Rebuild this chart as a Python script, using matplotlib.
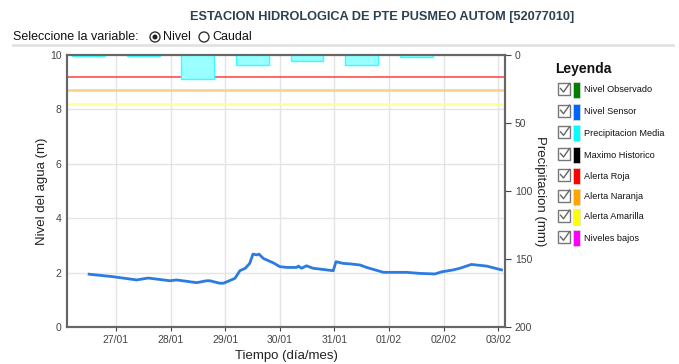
import matplotlib
matplotlib.use("Agg")
import matplotlib.pyplot as plt
import matplotlib.dates as mdates
from matplotlib.patches import Rectangle, Circle
from matplotlib.lines import Line2D
import pandas as pd

plt.rcParams['font.family'] = ['Liberation Sans', 'DejaVu Sans']

# Nivel sensor (m)
level_times = [
    "2023-01-26 12:14", "2023-01-26 22:40", "2023-01-27 09:07", "2023-01-27 14:10",
    "2023-01-27 23:46", "2023-01-28 02:38", "2023-01-28 11:31", "2023-01-28 15:50",
    "2023-01-28 17:17", "2023-01-28 21:36", "2023-01-28 23:17", "2023-01-29 04:19",
    "2023-01-29 06:29", "2023-01-29 08:53", "2023-01-29 10:48", "2023-01-29 12:14",
    "2023-01-29 13:55", "2023-01-29 14:53", "2023-01-29 16:48", "2023-01-29 21:07",
    "2023-01-30 00:00", "2023-01-30 03:07", "2023-01-30 07:26", "2023-01-30 08:10",
    "2023-01-30 09:36", "2023-01-30 11:46", "2023-01-30 14:38", "2023-01-30 23:31",
    "2023-01-31 00:43", "2023-01-31 03:50", "2023-01-31 06:58", "2023-01-31 11:17",
    "2023-01-31 14:10", "2023-01-31 21:36", "2023-02-01 07:41", "2023-02-01 13:41",
    "2023-02-01 20:10", "2023-02-01 23:17", "2023-02-02 04:19", "2023-02-02 07:12",
    "2023-02-02 12:14", "2023-02-02 14:24", "2023-02-02 18:58", "2023-02-03 01:26",
]
level_values = [
    1.94, 1.85, 1.73, 1.80, 1.70, 1.73, 1.63, 1.70,
    1.70, 1.61, 1.61, 1.79, 2.07, 2.16, 2.34, 2.68,
    2.65, 2.68, 2.52, 2.36, 2.22, 2.19, 2.19, 2.24,
    2.16, 2.25, 2.16, 2.07, 2.40, 2.34, 2.32, 2.28,
    2.19, 2.01, 2.01, 1.97, 1.95, 2.03, 2.10, 2.16,
    2.30, 2.28, 2.24, 2.10,
]

# Precipitacion media diaria (mm)
precip_days = ["2023-01-26 12:00", "2023-01-27 12:00", "2023-01-28 12:00",
               "2023-01-29 12:00", "2023-01-30 12:00", "2023-01-31 12:00",
               "2023-02-01 12:00"]
precip_values = [1.0, 1.0, 17.5, 7.5, 4.5, 7.0, 1.5]

# Umbrales de alerta (m)
alerta_roja = 9.2
alerta_naranja = 8.7
alerta_amarilla = 8.2

legend_labels = ["Nivel Observado", "Nivel Sensor", "Precipitacion Media",
                 "Maximo Historico", "Alerta Roja", "Alerta Naranja",
                 "Alerta Amarilla", "Niveles bajos"]
legend_colors = ["#008000", "#0066ff", "#00ffff", "#000000",
                 "#ff0000", "#ffa500", "#ffff00", "#ff00ff"]

W, H = 679, 364
fig = plt.figure(figsize=(W / 100, H / 100), dpi=100)

L, R, T, B = 67, 505, 55, 327
ax = fig.add_axes([L / W, 1 - B / H, (R - L) / W, (B - T) / H])
ax2 = ax.twinx()

lt = pd.to_datetime(level_times)
pt = pd.to_datetime(precip_days)

ax.axhline(alerta_roja, color="#ff4d4d", lw=1.2, zorder=3)
ax.axhline(alerta_naranja, color="#f8d08a", lw=1.8, zorder=3)
ax.axhline(alerta_amarilla, color="#ffff99", lw=1.8, zorder=3)
ax.plot(lt, level_values, color="#2b7be4", lw=2, zorder=4)

ax.set_ylim(0, 10)
ax.set_yticks([0, 2, 4, 6, 8, 10])
ax.set_xlim(pd.Timestamp("2023-01-26 02:30"), pd.Timestamp("2023-02-03 03:00"))
ax.xaxis.set_major_locator(mdates.DayLocator())
ax.xaxis.set_major_formatter(mdates.DateFormatter("%d/%m"))
ax.grid(True, color="#e4e4e4", lw=1)
ax.set_axisbelow(True)

ax2.bar(pt, precip_values, width=0.6, color="#99ffff", edgecolor="#33ffff",
        lw=1, zorder=2)
ax2.set_ylim(200, 0)
ax2.set_yticks([0, 50, 100, 150, 200])

for a in (ax, ax2):
    for s in a.spines.values():
        s.set_color("#666666")
        s.set_linewidth(1.5)
    a.tick_params(labelsize=7.5, colors="#444444", length=3, width=0.8)
ax.tick_params(axis="x", pad=3)
ax.tick_params(axis="y", length=0, pad=4)
ax2.tick_params(axis="y", length=4, pad=3)

ax.set_ylabel("Nivel del agua (m)", fontsize=9.5, color="#222222", va="center")
ax.yaxis.set_label_coords(-0.057, 0.5)
ax2.set_ylabel("Precipitacion (mm)", fontsize=9.5, color="#222222",
               rotation=-90, va="center")
ax2.yaxis.set_label_coords(1.08, 0.5)
ax.set_xlabel("Tiempo (día/mes)", fontsize=9.5, color="#222222", labelpad=3)

# Decorations drawn in pixel space
ov = fig.add_axes([0, 0, 1, 1], zorder=-1)
ov.set_xlim(0, W)
ov.set_ylim(H, 0)
ov.axis("off")

fig.text(382 / W, 1 - 17 / H, "ESTACION HIDROLOGICA DE PTE PUSMEO AUTOM [52077010]",
         ha="center", va="center", fontsize=9.2, fontweight="bold", color="#2a4150")
fig.text(13 / W, 1 - 37 / H, "Seleccione la variable:", ha="left", va="center",
         fontsize=9, color="#111111")
ov.add_patch(Circle((155, 37), 5, fill=False, ec="#333333", lw=1))
ov.add_patch(Circle((155, 37), 2.5, fc="#222222", ec="none"))
fig.text(163 / W, 1 - 37 / H, "Nivel", ha="left", va="center", fontsize=9,
         color="#111111")
ov.add_patch(Circle((204, 37), 5, fill=False, ec="#333333", lw=1))
fig.text(212 / W, 1 - 37 / H, "Caudal", ha="left", va="center", fontsize=9,
         color="#111111")
ov.plot([13, 673], [45, 45], color="#e2e2e2", lw=2)

fig.text(555 / W, 1 - 69 / H, "Leyenda", ha="left", va="center", fontsize=10,
         fontweight="bold", color="#111111")
ys = [90, 111.7, 133.3, 155, 176, 196.7, 216.7, 238.3]
for y, lab, col in zip(ys, legend_labels, legend_colors):
    ov.add_patch(Rectangle((558, y - 7), 12, 12, fill=False, ec="#777777", lw=1))
    ov.add_line(Line2D([560.5, 563.5, 569.5], [y - 1.5, y + 2, y - 6.5],
                       color="#666666", lw=1))
    ov.add_patch(Rectangle((573, y - 8), 7, 16, fc=col, ec="#dddddd", lw=0.5))
    fig.text(584 / W, 1 - y / H, lab, ha="left", va="center", fontsize=6.6,
             color="#111111")

fig.savefig("out.png", dpi=100)
